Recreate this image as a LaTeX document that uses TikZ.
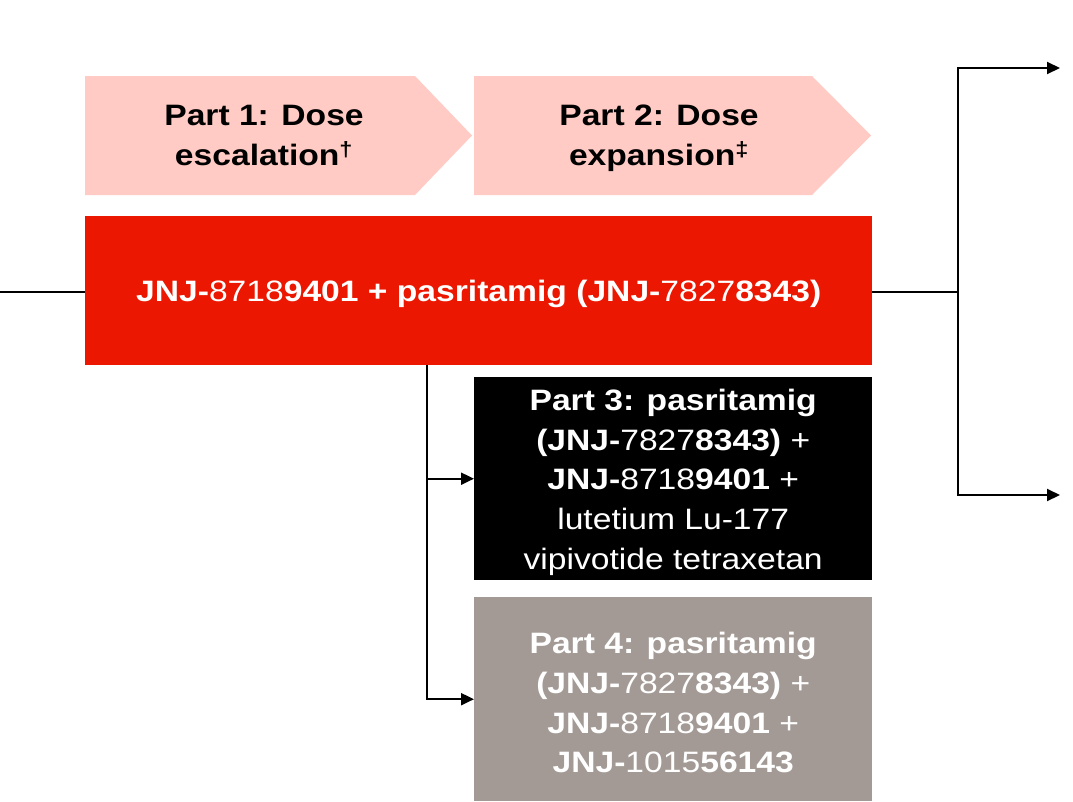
\documentclass[tikz,border=0pt]{standalone}
\usepackage{fontspec}
\setmainfont{Liberation Sans}[FakeStretch=1.14]
\usetikzlibrary{arrows.meta}
\definecolor{pinkc}{HTML}{FFCBC4}
\definecolor{redc}{HTML}{EB1700}
\definecolor{greyc}{HTML}{A39A95}
\newcommand{\Bf}[1]{\textbf{#1}}
\begin{document}
\begin{tikzpicture}[x=1pt,y=-1pt,
  txt/.style={align=center,font=\fontsize{29.5}{39.8}\selectfont,inner sep=0pt},
  wtxt/.style={txt,text=white,yshift=-3.5pt},
  box/.style={minimum width=#1,inner sep=0pt,anchor=north west},
  conn/.style={line width=2pt,black},
  arr/.style={conn,-{Triangle[length=13pt,width=12pt]}}]
\useasboundingbox (0,0) rectangle (1073,801);
% chevrons
\fill[pinkc] (85,76) -- (415,76) -- (472,135.5) -- (415,195) -- (85,195) -- cycle;
\fill[pinkc] (474,76) -- (812,76) -- (871,135.5) -- (812,195) -- (474,195) -- cycle;
\node[txt,anchor=north] (p1) at (264,105) {\Bf{Part 1: Dose}\\\Bf{escalation\textsuperscript{†}}};
\node[txt,anchor=north] (p2) at (659,105) {\Bf{Part 2: Dose}\\\Bf{expansion\textsuperscript{‡}}};
% boxes
\node[box=787pt,minimum height=149pt,fill=redc] (red) at (85,216) {};
\node[box=398pt,minimum height=203pt,fill=black] (p3) at (474,377) {};
\node[box=398pt,minimum height=204pt,fill=greyc] (p4) at (474,597) {};
% texts
\node[wtxt] (tred) at (red.center) {\Bf{JNJ-}8718\Bf{9401 + pasritamig (JNJ-}7827\Bf{8343)}};
\node[wtxt] (t3) at (p3.center) {\Bf{Part 3: pasritamig}\\\Bf{(JNJ-}7827\Bf{8343)} +\\\Bf{JNJ-}8718\Bf{9401} +\\lutetium Lu-177\\vipivotide tetraxetan};
\node[wtxt] (t4) at (p4.center) {\Bf{Part 4: pasritamig}\\\Bf{(JNJ-}7827\Bf{8343)} +\\\Bf{JNJ-}8718\Bf{9401} +\\\Bf{JNJ-}1015\Bf{56143}};
% connectors
\coordinate (in) at (0,292);
\coordinate (br) at (958,292);
\coordinate (o1) at (1060,68);
\coordinate (o2) at (1060,495);
\coordinate (d) at (427,365);
\draw[conn] (in) -- (in -| red.west);
\draw[conn] (red.east |- br) -- (br);
\draw[arr] (br) |- (o1);
\draw[arr] (br) |- (o2);
\draw[arr] (d) |- (p3.west);
\draw[arr] (d) |- (p4.west);
\end{tikzpicture}
\end{document}
